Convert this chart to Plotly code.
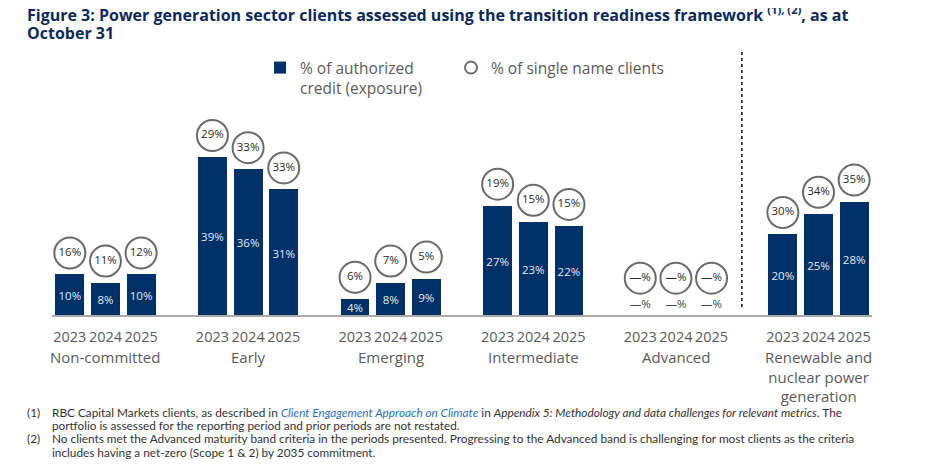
import plotly.graph_objects as go

# chart data
groups = ["Non-committed", "Early", "Emerging", "Intermediate", "Advanced",
          "Renewable and<br>nuclear power<br>generation"]
years = ["2023", "2024", "2025"]
# % of authorized credit (exposure), None = no clients ("—%")
exposure = [10, 8, 10, 39, 36, 31, 4, 8, 9, 27, 23, 22, None, None, None, 20, 25, 28]
# % of single name clients
single_name = [16, 11, 12, 29, 33, 33, 6, 7, 5, 19, 15, 15, None, None, None, 30, 34, 35]

NAVY = "#003168"
GREY_TXT = "#5b5b5b"
FONT = "Open Sans"

# page body has an 8px margin, so work in screen pixels and convert
L, T, W, H = 44, 40, 820, 267
def px_x(x):
    return (x - 8 - L) / W
def px_y(y):
    return (T + H - (y - 8)) / H

xs = [g * 4 + j for g in range(len(groups)) for j in range(len(years))]
pct = lambda v: "—%" if v is None else f"{v}%"

fig = go.Figure()

fig.add_bar(
    x=xs, y=exposure, width=0.81,
    marker=dict(color=NAVY, line_width=0),
    name="% of authorized<br>credit (exposure)",
    hoverinfo="skip",
)

# labels inside the bars
fig.add_scatter(
    x=xs,
    y=[2.5 if v is None else v / 2 - 0.6 for v in exposure],
    mode="text",
    text=[pct(v) for v in exposure],
    textfont=dict(family=FONT, size=11.5,
                  color=["#444444" if v is None else "#e3e9f2" for v in exposure]),
    showlegend=False, hoverinfo="skip",
)

# circles with single name share, sitting on top of the bars
circle_y = [(3.8 if v is None else v) + 5.3 for v in exposure]
fig.add_scatter(
    x=xs, y=circle_y, mode="markers",
    marker=dict(size=31, color="white", line=dict(color="#6b6b6b", width=2)),
    name="% of single name clients", legend="legend2",
    hoverinfo="skip",
)
fig.add_scatter(
    x=xs, y=circle_y, mode="text",
    text=[pct(v) for v in single_name],
    textfont=dict(family=FONT, size=11.5, color="#2a2a2a"),
    showlegend=False, hoverinfo="skip",
)

# group names under the year ticks
for g, name in enumerate(groups):
    fig.add_annotation(
        x=g * 4 + 1, y=0, xref="x", yref="paper", yanchor="top", yshift=-30,
        text=name, showarrow=False, align="center",
        font=dict(family=FONT, size=15, color=GREY_TXT),
    )

# dotted divider before the renewables group
fig.add_shape(type="line", x0=18.85, x1=18.85, y0=2, y1=65.3, xref="x", yref="y",
              line=dict(color="#222222", width=1.6, dash="dot"))

# title, two lines
title_lines = [
    "Figure 3: Power generation sector clients assessed using the transition "
    "readiness framework <sup>(1), (2)</sup>, as at",
    "October 31",
]
for i, line in enumerate(title_lines):
    fig.add_annotation(x=px_x(25), y=px_y(14 + i * 19), xref="paper", yref="paper",
                       xanchor="left", yanchor="middle", text=f"<b>{line}</b>",
                       showarrow=False, font=dict(family=FONT, size=16, color="#0b2a5b"))

footnotes = [
    ("(1)", "RBC Capital Markets clients, as described in "
            "<i><span style='color:#2f6fc0'>Client Engagement Approach on Climate</span></i> in "
            "<i>Appendix 5: Methodology and data challenges for relevant metrics</i>. The"),
    ("", "portfolio is assessed for the reporting period and prior periods are not restated."),
    ("(2)", "No clients met the Advanced maturity band criteria in the periods presented. "
            "Progressing to the Advanced band is challenging for most clients as the criteria"),
    ("", "includes having a net-zero (Scope 1 &amp; 2) by 2035 commitment."),
]
for i, (num, line) in enumerate(footnotes):
    ypix = 412 + i * 13.4
    if num:
        fig.add_annotation(x=px_x(25), y=px_y(ypix), xref="paper", yref="paper",
                           xanchor="left", yanchor="middle", text=num, showarrow=False,
                           font=dict(family="Lato", size=11.8, color="#333333"))
    fig.add_annotation(x=px_x(50), y=px_y(ypix), xref="paper", yref="paper",
                       xanchor="left", yanchor="middle", text=line, showarrow=False,
                       font=dict(family="Lato", size=11.8, color="#333333"))

legend_style = dict(
    orientation="h", yanchor="top", xanchor="left", valign="top",
    font=dict(family=FONT, size=15.5, color=GREY_TXT),
    itemsizing="constant", bgcolor="rgba(0,0,0,0)",
)
fig.update_layout(
    width=938, height=470,
    margin=dict(l=L, r=938 - L - W, t=T, b=470 - T - H),
    plot_bgcolor="white", paper_bgcolor="white",
    font=dict(family=FONT, color=GREY_TXT),
    legend=dict(x=0.2537, y=0.9887, **legend_style),
    legend2=dict(x=0.4866, y=0.9887, **legend_style),
    xaxis=dict(
        range=[-0.5, 22.5], tickvals=xs, ticktext=years * len(groups),
        showline=True, linecolor="#aaaaaa", linewidth=2, showgrid=False,
        zeroline=False, ticks="", tickangle=0, ticklabelstandoff=8,
        tickfont=dict(family=FONT, size=14.5, color=GREY_TXT),
    ),
    yaxis=dict(range=[0, 65.9], visible=False, showgrid=False, zeroline=False),
    bargap=0,
)

fig.write_html("out.html")
